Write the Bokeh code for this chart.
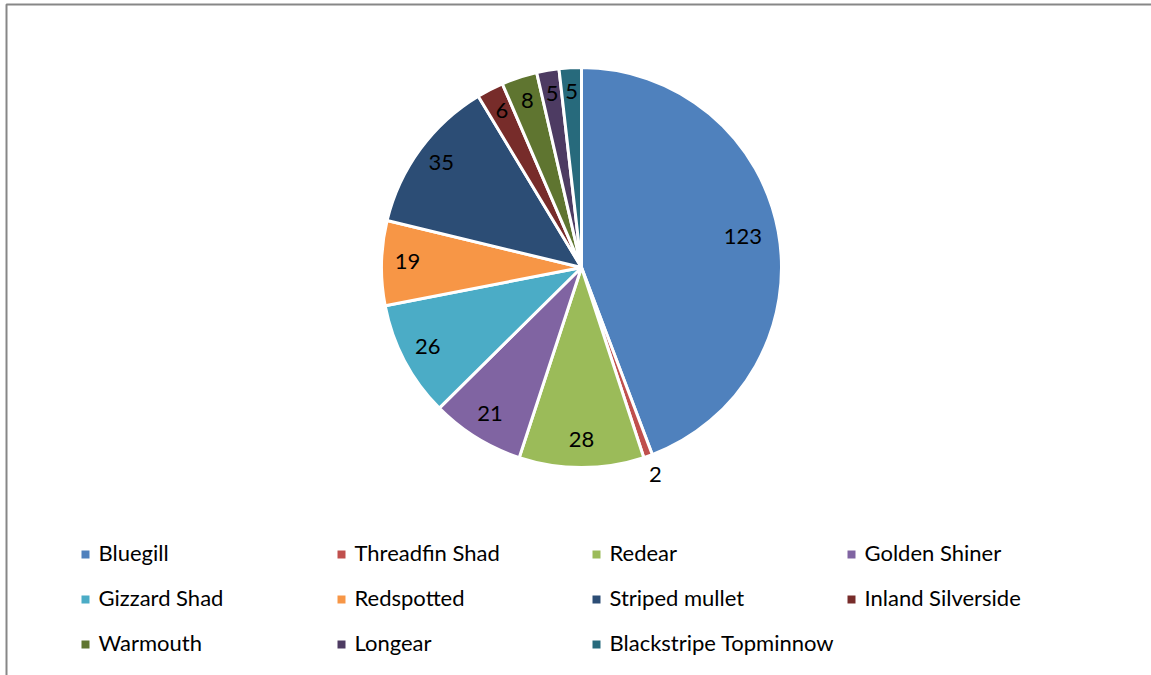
import math
from bokeh.plotting import figure
from bokeh.models import Range1d, ColumnDataSource
from bokeh.core.properties import value
from bokeh.embed import file_html
from bokeh.resources import INLINE

# ---- data ----
species = ["Bluegill", "Threadfin Shad", "Redear", "Golden Shiner", "Gizzard Shad",
           "Redspotted", "Striped mullet", "Inland Silverside", "Warmouth", "Longear",
           "Blackstripe Topminnow"]
counts = [123, 2, 28, 21, 26, 19, 35, 6, 8, 5, 5]
colors = ["#4F81BD", "#C0504D", "#9BBB59", "#8064A2", "#4BACC6", "#F79646",
          "#2C4D75", "#772C2A", "#5F7530", "#4D3B62", "#276A7C"]

# ---- layout (pixels) ----
W, H = 1151, 675
CX, CY, R = 581, 267, 200
FONT = "Lato"
FS = "22px"


def py(y):
    return H - y


total = float(sum(counts))
starts, ends, lx, ly, labels = [], [], [], [], []
cum = 0.0
for c in counts:
    a0 = cum / total * 2 * math.pi
    cum += c
    a1 = cum / total * 2 * math.pi
    starts.append(math.pi / 2 - a1)
    ends.append(math.pi / 2 - a0)
    mid = math.pi / 2 - (a0 + a1) / 2
    frac = c / total
    if frac < 0.01:
        k = 1.11
    elif frac > 0.3:
        k = 0.82
    else:
        k = 0.87
    rr = R * k
    lx.append(CX + rr * math.cos(mid))
    ly.append(py(CY) + rr * math.sin(mid) + 2)
    labels.append(str(c))

p = figure(width=W, height=H, output_backend="svg", toolbar_location=None,
           x_range=Range1d(0, W), y_range=Range1d(0, H), min_border=0)
p.axis.visible = False
p.grid.visible = False
p.outline_line_color = None
p.background_fill_color = "white"
p.border_fill_color = "white"

# chart frame (partially visible)
p.quad(left=[6], right=[W + 50], top=[py(4)], bottom=[-50], fill_alpha=0,
       line_color="#878787", line_width=2)

src = ColumnDataSource(dict(start=starts, end=ends, color=colors,
                            lx=lx, ly=ly, label=labels))
p.wedge(x=CX, y=py(CY), radius=R, start_angle="start", end_angle="end",
        fill_color="color", line_color="white", line_width=3, source=src)
p.text(x="lx", y="ly", text="label", source=src, text_align="center",
       text_baseline="middle", text_font=value(FONT), text_font_size=FS,
       text_color="black")

# legend (4 columns)
col_x = [85, 341, 596, 851]
row_y = [554, 599, 644]
sqx, sqy, tx, ty = [], [], [], []
for i, name in enumerate(species):
    r_, c_ = divmod(i, 4)
    sqx.append(col_x[c_])
    sqy.append(py(row_y[r_]))
    tx.append(col_x[c_] + 13)
    ty.append(py(row_y[r_]) + 2)
lsrc = ColumnDataSource(dict(x=sqx, y=sqy, tx=tx, ty=ty, name=species, color=colors))
p.rect(x="x", y="y", width=8, height=8, fill_color="color", line_color=None, source=lsrc)
p.text(x="tx", y="ty", text="name", source=lsrc, text_align="left",
       text_baseline="middle", text_font=value(FONT), text_font_size=FS,
       text_color="black")

open("out.html", "w").write(file_html(p, INLINE))
